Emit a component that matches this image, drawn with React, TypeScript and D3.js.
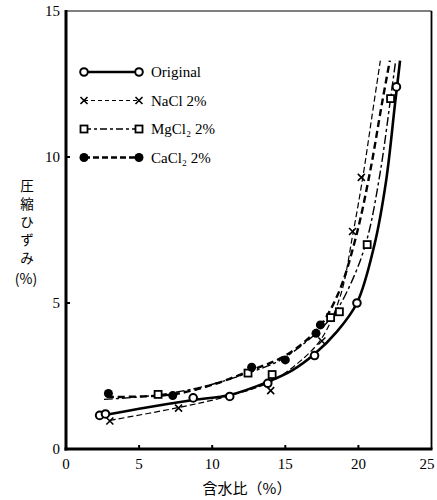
import React from "react";
import * as d3 from "d3";

const W = 437;
const H = 500;

// Axis ticks
const xTicks = [0, 5, 10, 15, 20, 25];
const yTicks = [0, 5, 10, 15];

// Measured points: [water content %, compressive strain %]
const originalPts: [number, number][] = [
  [2.3, 1.15], [2.7, 1.2], [8.7, 1.75], [11.2, 1.8], [13.8, 2.25], [17.0, 3.2], [19.9, 5.0], [22.6, 12.4],
];
const naclPts: [number, number][] = [
  [3.0, 0.96], [7.7, 1.4], [14.0, 2.0], [17.5, 3.7], [19.6, 7.45], [20.2, 9.3],
];
const mgcl2Pts: [number, number][] = [
  [6.3, 1.87], [12.45, 2.6], [14.1, 2.55], [18.1, 4.5], [18.7, 4.7], [20.6, 7.0], [22.2, 12.0],
];
const cacl2Pts: [number, number][] = [
  [2.9, 1.9], [7.3, 1.83], [12.7, 2.8], [15.0, 3.05], [17.1, 3.96], [17.4, 4.25],
];

// Fitted curves drawn through the points
const originalFit: [number, number][] = [
  [2.2, 1.12], [5, 1.38], [8.7, 1.68], [11.2, 1.85], [13.8, 2.3], [15.5, 2.7], [17.0, 3.25],
  [18.5, 4.0], [19.9, 5.0], [21.1, 7.0], [21.9, 9.2], [22.5, 11.8], [22.85, 13.3],
];
const naclFit: [number, number][] = [
  [3.0, 0.98], [7.7, 1.42], [11, 1.8], [14, 2.3], [16, 3.0], [17.5, 3.8], [18.8, 5.3],
  [19.6, 7.3], [20.3, 9.3], [20.9, 11.3], [21.5, 13.3],
];
const mgcl2Fit: [number, number][] = [
  [2.6, 1.7], [6.3, 1.85], [9.5, 2.15], [12.45, 2.6], [14.5, 3.0], [16.5, 3.7], [18.3, 4.6],
  [19.6, 5.8], [20.6, 7.2], [21.5, 9.5], [22.2, 12.0], [22.55, 13.3],
];
const cacl2Fit: [number, number][] = [
  [2.8, 1.78], [7.3, 1.87], [10, 2.2], [12.7, 2.7], [15, 3.2], [17.2, 4.1], [18.6, 5.3],
  [19.8, 7.2], [20.8, 9.5], [21.6, 11.8], [22.15, 13.3],
];

const legendLabels = ["Original", "NaCl 2%", "MgCl\u2082 2%", "CaCl\u2082 2%"];
const yTitleChars = ["圧", "縮", "ひ", "ず", "み"];

const serif = "'Liberation Serif', 'DejaVu Serif', serif";
const jp = "'Noto Sans CJK JP', sans-serif";

const x = d3.scaleLinear().domain([0, 25]).range([66, 431.5]);
const y = d3.scaleLinear().domain([0, 15]).range([449, 11]);

const line = d3
  .line<[number, number]>()
  .x((d) => x(d[0]))
  .y((d) => y(d[1]))
  .curve(d3.curveCatmullRom.alpha(0.5));

type Kind = "circle" | "x" | "square" | "dot";

function Marker({ kind, cx, cy }: { kind: Kind; cx: number; cy: number }) {
  if (kind === "circle")
    return <circle cx={cx} cy={cy} r={3.8} fill="#fff" stroke="#000" strokeWidth={2} />;
  if (kind === "dot") return <circle cx={cx} cy={cy} r={4.5} fill="#000" />;
  if (kind === "square")
    return <rect x={cx - 3.5} y={cy - 3.5} width={7} height={7} fill="#fff" stroke="#000" strokeWidth={1.8} />;
  const s = 3.5;
  return (
    <path d={`M${cx - s},${cy - s}L${cx + s},${cy + s}M${cx - s},${cy + s}L${cx + s},${cy - s}`} stroke="#000" strokeWidth={1.6} />
  );
}

const series = [
  { pts: originalPts, fit: originalFit, kind: "circle" as Kind, width: 2.6, dash: undefined },
  { pts: naclPts, fit: naclFit, kind: "x" as Kind, width: 1.2, dash: "6,3" },
  { pts: mgcl2Pts, fit: mgcl2Fit, kind: "square" as Kind, width: 1.4, dash: "9,3,3,3" },
  { pts: cacl2Pts, fit: cacl2Fit, kind: "dot" as Kind, width: 2.4, dash: "7,4" },
];

const legendLineDash = [undefined, "4,3", "7,3,3,3", "6,3"];

export default function App() {
  const x0 = x(0);
  const x1 = x(25);
  const y0 = y(0);
  const y1 = y(15);
  return (
    <svg width={W} height={H} style={{ position: "absolute", left: 0, top: 0, background: "#fff" }}>
      {/* frame */}
      <line x1={x0} y1={y1} x2={x1} y2={y1} stroke="#000" strokeWidth={1.2} />
      <line x1={x1} y1={y1} x2={x1} y2={y0} stroke="#000" strokeWidth={1.8} />
      <line x1={x0} y1={y1 - 1} x2={x0} y2={y0 + 1.5} stroke="#000" strokeWidth={3} />
      <line x1={x0 - 1.5} y1={y0} x2={x1 + 1} y2={y0} stroke="#000" strokeWidth={3} />

      {/* ticks */}
      {xTicks.slice(1, -1).map((t) => (
        <line key={"xt" + t} x1={x(t)} x2={x(t)} y1={y0} y2={y0 - 4} stroke="#000" strokeWidth={2} />
      ))}
      {yTicks.slice(1, -1).map((t) => (
        <line key={"yt" + t} x1={x0} x2={x0 + 4} y1={y(t)} y2={y(t)} stroke="#000" strokeWidth={2} />
      ))}

      {/* tick labels */}
      {xTicks.map((t) => (
        <text key={"xl" + t} x={Math.min(x(t), 427)} y={y0 + 20} textAnchor="middle" fontFamily={serif} fontSize={15}>
          {t}
        </text>
      ))}
      {yTicks.map((t) => (
        <text key={"yl" + t} x={x0 - 6} y={y(t) + 5} textAnchor="end" fontFamily={serif} fontSize={15}>
          {t}
        </text>
      ))}

      {/* axis titles */}
      {yTitleChars.map((c, i) => (
        <text key={c} x={27} y={191 + i * 18} textAnchor="middle" fontFamily={jp} fontSize={13.5}>
          {c}
        </text>
      ))}
      <text x={26} y={284} textAnchor="middle" fontFamily={jp} fontSize={14}>
        (%)
      </text>
      <text x={247} y={494} textAnchor="middle" fontFamily={jp} fontSize={15}>
        含水比（%）
      </text>

      {/* curves */}
      {series.map((s, i) => (
        <path key={"c" + i} d={line(s.fit) || ""} fill="none" stroke="#000" strokeWidth={s.width} strokeDasharray={s.dash} />
      ))}
      {/* markers */}
      {series.map((s, i) =>
        s.pts.map((p, j) => <Marker key={`m${i}-${j}`} kind={s.kind} cx={x(p[0])} cy={y(p[1])} />)
      )}

      {/* legend */}
      {series.map((s, i) => {
        const ly = 72 + i * 28.5;
        const la = 84;
        const lb = 139;
        return (
          <g key={"lg" + i}>
            <line x1={la} x2={lb} y1={ly} y2={ly} stroke="#000" strokeWidth={s.width} strokeDasharray={legendLineDash[i]} />
            <Marker kind={s.kind} cx={la} cy={ly} />
            <Marker kind={s.kind} cx={lb} cy={ly} />
            <text x={151} y={ly + 5} fontFamily={serif} fontSize={15}>
              {legendLabels[i]}
            </text>
          </g>
        );
      })}
    </svg>
  );
}
